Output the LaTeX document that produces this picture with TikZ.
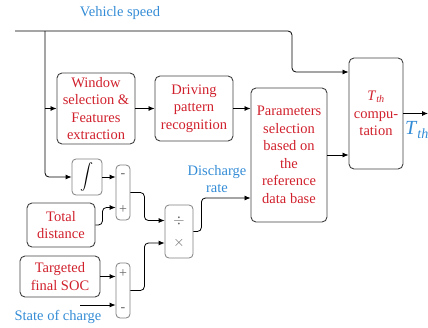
\documentclass[tikz,border=0pt]{standalone}
\usepackage{fontspec}
\usepackage{graphicx}
\setmainfont{Liberation Serif}
\usetikzlibrary{calc,arrows.meta,positioning}
\definecolor{blkred}{RGB}{208,32,44}
\definecolor{sigblue}{RGB}{52,140,214}
\definecolor{boxgray}{RGB}{64,64,64}

\begin{document}
\begin{tikzpicture}[
      x=1pt, y=-1pt,
      block/.style={draw=boxgray, line width=0.9pt, rounded corners=5pt, align=center,
        text=blkred, inner sep=1pt, font={\fontsize{14.5}{17.5}\selectfont}},
      opbox/.style={draw=gray, line width=0.8pt, rounded corners=4pt, inner sep=0},
      sym/.style={text=black!60, inner sep=0, font={\fontsize{14}{14}\selectfont}},
      sig/.style={text=sigblue, align=center, inner sep=0, font={\fontsize{14.5}{16.5}\selectfont}},
      wire/.style={draw, line width=0.8pt, -{Latex[length=6pt,width=5pt]}},
      elbow/.style={wire, rounded corners=4pt}
  ]
  \useasboundingbox (0,0) rectangle (428,327);

  % main blocks
  \node[block, minimum width=78pt, minimum height=71pt] (win) at (96,108.5)
    {Window\\selection \&\\Features\\extraction};
  \node[block, minimum width=78pt, minimum height=65pt] (drv) at (194,108.5)
    {Driving\\pattern\\recognition};
  \node[block, minimum width=76pt, minimum height=134pt] (par) at (289,155)
    {Parameters\\selection\\based on\\the\\reference\\data base};
  \node[block, minimum width=54pt, minimum height=111pt] (tth) at (376,113.5)
    {\textit{T}$_{\mathit{th}}$\\compu-\\tation};
  \node[block, minimum width=68pt, minimum height=44pt] (tot) at (61,225)
    {Total\\distance};
  \node[block, minimum width=80pt, minimum height=41pt] (tgt) at (60,276.5)
    {Targeted\\final SOC};

  % operators
  \node[opbox, minimum width=30pt, minimum height=36pt]
    (intg) at (87,177) {\scalebox{1.3}{$\displaystyle\int$}};
  \node[opbox, minimum width=14pt, minimum height=55pt] (sub) at (123,192.5) {};
  \node[opbox, minimum width=28pt, minimum height=53pt] (mul) at (179,231.5) {};
  \node[opbox, minimum width=14pt, minimum height=55pt] (add) at (123,290.5) {};
  \node[sym] (subm) at ($(sub.center)+(0,-17)$) {-};
  \node[sym] (subp) at ($(sub.center)+(0,17)$) {+};
  \node[sym] (muld) at ($(mul.center)+(0,-11)$) {$\div$};
  \node[sym] (mulx) at ($(mul.center)+(0,11)$) {$\times$};
  \node[sym] (addp) at ($(add.center)+(0,-17)$) {+};
  \node[sym] (addm) at ($(add.center)+(0,19)$) {-};

  % signal labels
  \node[sig] (vsl) at (120,13) {Vehicle speed};
  \node[sig] (dsl) at (217,179) {Discharge\\rate};
  \node[sig] (scl) at (58,317) {State of charge};
  \node[sig, font={\fontsize{20}{20}\selectfont}] (outl) at (417,130) {\textit{T}$_{\mathit{th}}$};

  \coordinate (vs) at (15,31);
  \coordinate (bus) at (45,31);
  \coordinate (sc) at (80,305);
  \coordinate (out) at (428,113.5);

  % connectors
  \draw[elbow] (vs) -- (292,31) -- (292,72) -- (tth.west |- 0,72);
  \draw[elbow] (bus) |- (intg.west);
  \draw[wire] (bus |- win.west) -- (win.west);
  \draw[wire] (win) -- (drv);
  \draw[wire] (drv.east) -- (drv.east -| par.west);
  \draw[wire] (par.east) -- (par.east -| tth.west);
  \draw[wire] (tth.east) -- (out);
  \draw[wire] (intg.east) -- (intg.east -| sub.west);
  \draw[elbow] (tot.east) -- ++(7,0) |- ($(sub.west)+(0,15)$);
  \draw[elbow] (sub.east) -- ++(14,0) |- ($(mul.west)+(0,-11)$);
  \draw[wire] (tgt.east) -- (tgt.east -| add.west);
  \draw[wire] (sc) -- (sc -| add.west);
  \draw[elbow] (add.east) -- ++(14,0) |- ($(mul.west)+(0,11.5)$);
  \draw[elbow] (mul.east) -- ++(8,0) |- (par.west |- 0,198);

\end{tikzpicture}
\end{document}
